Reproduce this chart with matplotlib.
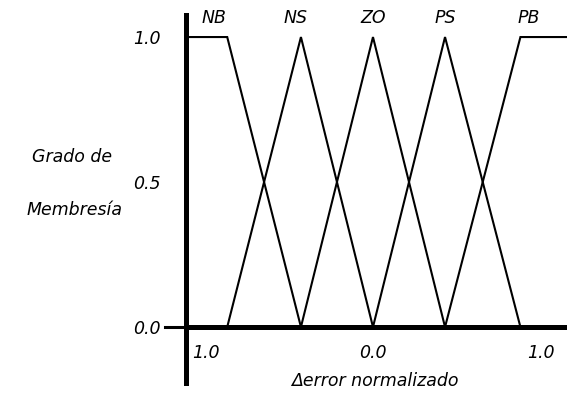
import matplotlib
matplotlib.use("Agg")
import matplotlib.pyplot as plt

# Membership functions (normalised delta-error)
sets = ["NB", "NS", "ZO", "PS", "PB"]
nb_x = [-1.12, -0.87, -0.43]; nb_y = [1.0, 1.0, 0.0]
ns_x = [-0.87, -0.43, 0.0];   ns_y = [0.0, 1.0, 0.0]
zo_x = [-0.43, 0.0, 0.43];    zo_y = [0.0, 1.0, 0.0]
ps_x = [0.0, 0.43, 0.88];     ps_y = [0.0, 1.0, 0.0]
pb_x = [0.43, 0.88, 1.16];    pb_y = [0.0, 1.0, 1.0]
label_x = [-0.95, -0.46, 0.0, 0.43, 0.93]

xticks = [-1.0, 0.0, 1.0]
xticklabels = ["1.0", "0.0", "1.0"]
yticks = [0.0, 0.5, 1.0]
yticklabels = ["0.0", "0.5", "1.0"]

plt.rcParams['font.family'] = ['DejaVu Sans']
plt.rcParams['font.style'] = 'italic'
FS = 12.5

fig = plt.figure(figsize=(5.67, 4.03), dpi=100)
ax = fig.add_axes([186/567, 20/403, 1 - 186/567, (383 - 15)/403])
ax.set_xlim(-1.116, 1.158)
ax.set_ylim(-0.193, 1.076)

for xs, ys in [(nb_x, nb_y), (ns_x, ns_y), (zo_x, zo_y), (ps_x, ps_y), (pb_x, pb_y)]:
    ax.plot(xs, ys, color="black", lw=1.5, solid_joinstyle="miter")

ax.axhline(0, color="black", lw=3.6)
ax.plot([-1.24, -1.116], [0, 0], color="black", lw=2.2, clip_on=False)

for s, lx in zip(sets, label_x):
    ax.text(lx, 1.035, s, ha="center", va="bottom", fontsize=FS, style="italic")

for sp in ["top", "right", "bottom"]:
    ax.spines[sp].set_visible(False)
ax.spines["left"].set_linewidth(3.6)

ax.set_xticks(xticks)
ax.set_xticklabels(xticklabels, fontsize=FS, style="italic")
ax.set_yticks(yticks)
ax.set_yticklabels(yticklabels, fontsize=FS, style="italic")
ax.tick_params(axis="both", length=0)
ax.tick_params(axis="x", pad=-28)
ax.tick_params(axis="y", pad=18)

fig.text(72/567, 1 - 157/403, "Grado de", ha="center", va="center", fontsize=FS, style="italic")
fig.text(75/567, 1 - 210/403, "Membresía", ha="center", va="center", fontsize=FS, style="italic")
fig.text(375/567, 1 - 381/403, "\u0394error normalizado", ha="center", va="center", fontsize=FS, style="italic")

fig.savefig("out.png", dpi=100)
